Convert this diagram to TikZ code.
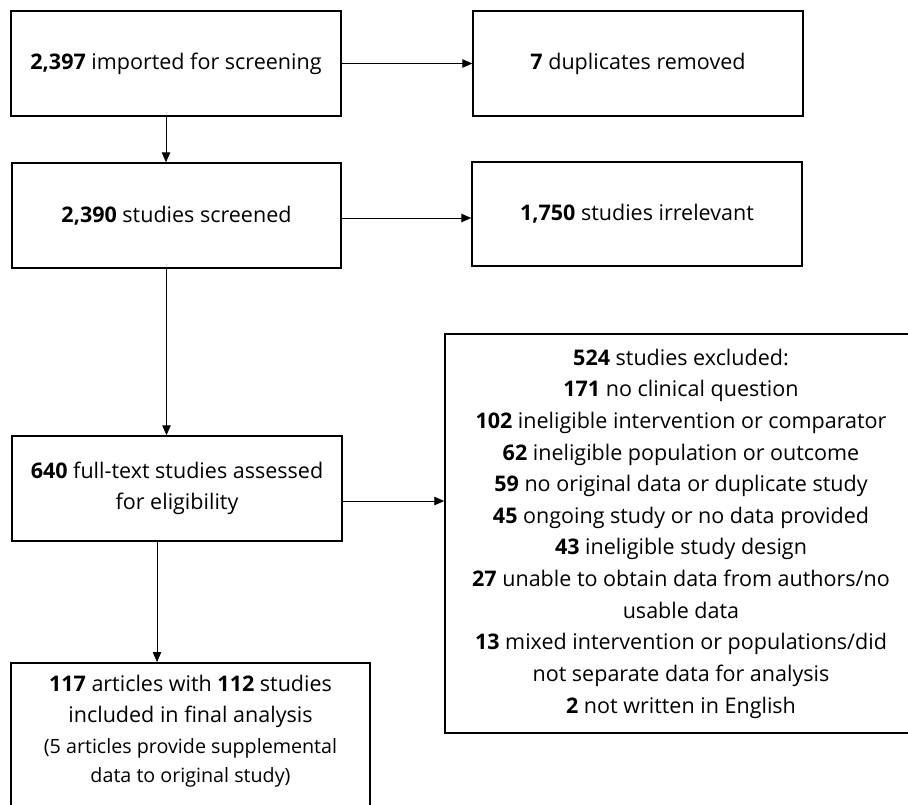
\documentclass[tikz,border=0pt]{standalone}
\usepackage{fontspec}
\setmainfont{Open Sans}
\usetikzlibrary{arrows.meta}

\tikzset{
	caixa/.style={draw, line width=1.1pt, inner sep=0pt, align=center,
		font=\fontsize{15.3}{22.5}\selectfont},
	seta/.style={line width=0.6pt, -{Triangle[length=7pt,width=6pt]}}
}
\newcommand{\nota}{\fontsize{14}{20.5}\selectfont}

\begin{document}
\begin{tikzpicture}[x=0.025cm, y=-0.025cm]

	\clip (0,0) rectangle (908,804);
	\fill[white] (0,0) rectangle (908,804);

% Caixas
	\node[caixa, minimum width=8.25cm, minimum height=2.625cm] (imp) at (176,63.5)
		{\textbf{2,397} imported for screening};
	\node[caixa, minimum width=8.25cm, minimum height=2.625cm] (dup) at (638,63.5)
		{\textbf{7} duplicates removed};
	\node[caixa, minimum width=8.225cm, minimum height=2.625cm] (scr) at (176.5,215.5)
		{\textbf{2,390} studies screened};
	\node[caixa, minimum width=8.25cm, minimum height=2.6cm] (irr) at (637,214)
		{\textbf{1,750} studies irrelevant};
	\node[caixa, minimum width=8.25cm, minimum height=2.625cm] (full) at (177,488.5)
		{\textbf{640} full-text studies assessed\\for eligibility};
	\node[caixa, minimum width=11.8cm, minimum height=9.975cm] (excl) at (681,533.5)
		{\textbf{524} studies excluded:\\
		\textbf{171} no clinical question\\
		\textbf{102} ineligible intervention or comparator\\
		\textbf{62} ineligible population or outcome\\
		\textbf{59} no original data or duplicate study\\
		\textbf{45} ongoing study or no data provided\\
		\textbf{43} ineligible study design\\
		\textbf{27} unable to obtain data from authors/no\\
		usable data\\
		\textbf{13} mixed intervention or populations/did\\
		not separate data for analysis\\
		\textbf{2} not written in English};
	\node[caixa, minimum width=8.975cm, minimum height=3.8cm, anchor=north] (incl) at (190.5,662)
		{};
	\node[align=center, anchor=north, font=\fontsize{15.3}{22.5}\selectfont] (incltxt) at (190.5,670)
		{\textbf{117} articles with \textbf{112} studies\\included in final analysis\\[-1pt]
		{\nota (5 articles provide supplemental}\\[-2pt]
		{\nota data to original study)}};

% Setas
	\draw[seta] (imp.east) -- (dup.west);
	\draw[seta] ([xshift=-0.25cm]imp.south) -- ([xshift=-0.25cm]imp.south |- scr.north);
	\draw[seta] (scr.east |- 0,218) -- (irr.west |- 0,218);
	\draw[seta] ([xshift=-0.25cm]scr.south) -- ([xshift=-0.25cm]scr.south |- full.north);
	\draw[seta] (full.east |- 0,501) -- (excl.west |- 0,501);
	\draw[seta] ([xshift=-0.5cm]full.south) -- ([xshift=-0.5cm]full.south |- incl.north);

\end{tikzpicture}
\end{document}
